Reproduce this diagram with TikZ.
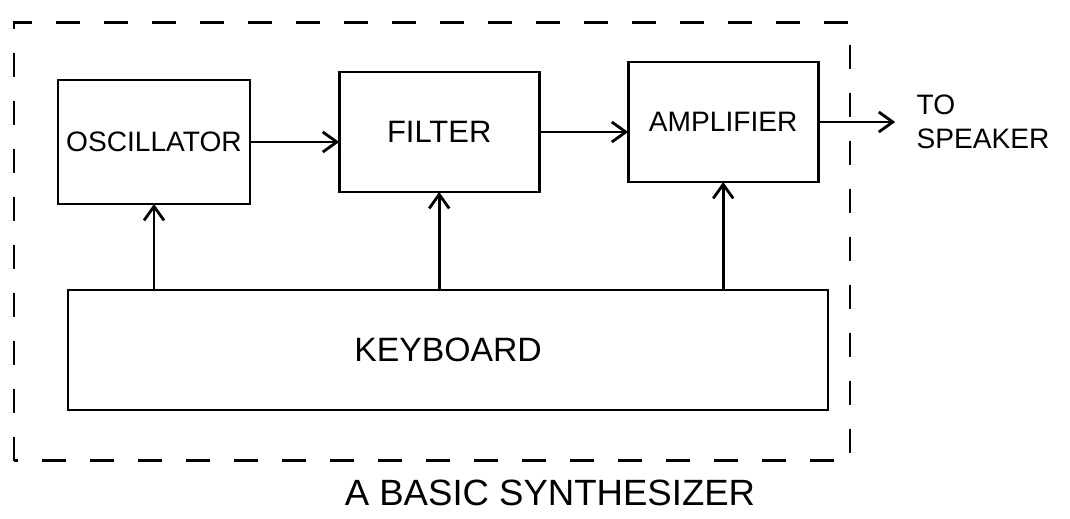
\documentclass[tikz,border=0pt]{standalone}
\usepackage{fontspec}
\setmainfont{Liberation Sans}
\usepackage{tikz}
\usetikzlibrary{arrows.meta}

\begin{document}
\begin{tikzpicture}[line width=2pt,
	block/.style={draw, inner sep=0pt, outer sep=0pt, font=\fontsize{20}{22}\selectfont},
	link/.style={-{Straight Barb[length=3.5mm,width=5mm]}}]
\useasboundingbox (0,0) rectangle (26.75,12.95);
\draw[dash pattern=on 0.6cm off 0.6cm] (0.35,1.43) rectangle (21.25,12.38);
\node[block, minimum width=4.8cm, minimum height=3.1cm] (osc) at (3.85,9.4) {OSCILLATOR};
\node[block, minimum width=5cm, minimum height=3cm, font=\fontsize{22}{24}\selectfont] (filter) at (10.98,9.65) {FILTER};
\node[block, minimum width=4.75cm, minimum height=3cm] (amp) at (18.08,9.9) {AMPLIFIER};
\node[block, minimum width=19cm, minimum height=3cm, font=\fontsize{24}{26}\selectfont] (kbd) at (11.2,4.2) {KEYBOARD};
\node[anchor=west, align=left, inner sep=0pt, font=\fontsize{20}{24}\selectfont] (spk) at (22.88,9.9) {TO\\SPEAKER};
\node[font=\fontsize{26}{28}\selectfont] (title) at (13.75,0.62) {A BASIC SYNTHESIZER};
\draw[link] (osc.east) -- (osc.east -| filter.west);
\draw[link] (filter.east) -- (filter.east -| amp.west);
\draw[link] (amp.east) -- ([xshift=-0.5cm]spk.west);
\foreach \b in {osc,filter,amp}
{
	\draw[link] (kbd.north -| \b.south) -- (\b.south);
}
\end{tikzpicture}
\end{document}
